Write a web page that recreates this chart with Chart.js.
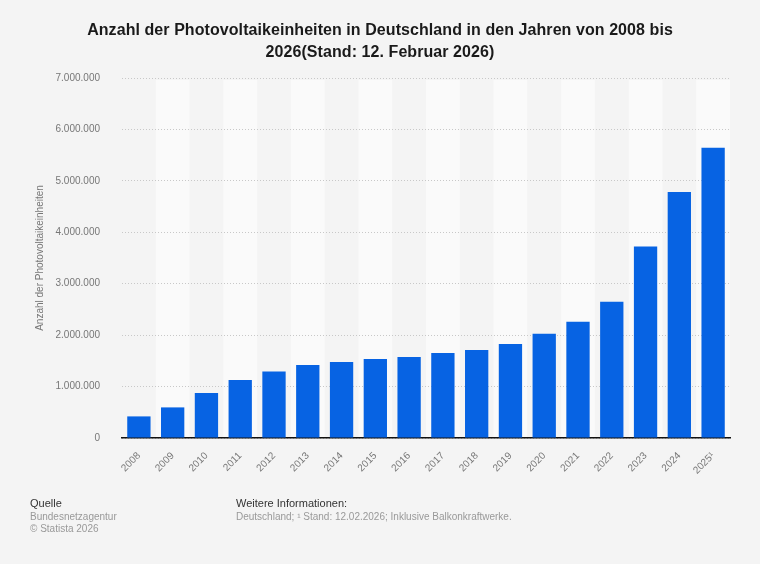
<!DOCTYPE html>
<html lang="de">
<head>
<meta charset="utf-8">
<script src="https://cdn.jsdelivr.net/npm/chart.js@4"></script>
<style>
  html, body { margin: 0; padding: 0; }
  body { width: 760px; height: 564px; background: #f4f4f4; position: relative; overflow: hidden;
         font-family: "Liberation Sans", Arial, sans-serif; }
  #title { position: absolute; left: 0; top: 19px; width: 760px; text-align: center;
           font-size: 16px; font-weight: bold; line-height: 22px; color: #1a1a1a; letter-spacing: 0.07px; }
  #wrap { position: absolute; left: 0; top: 0; width: 760px; height: 564px; }
  .foot { position: absolute; top: 497px; font-size: 10px; line-height: 12.5px; color: #999; }
  .foot b { font-weight: normal; color: #333; font-size: 11px; }
</style>
</head>
<body>
<div id="wrap"><canvas id="chart" width="760" height="564"></canvas></div>
<div id="title">Anzahl der Photovoltaikeinheiten in Deutschland in den Jahren von 2008 bis<br>2026(Stand: 12. Februar 2026)</div>
<div class="foot" style="left:30px"><b>Quelle</b><br>Bundesnetzagentur<br>© Statista 2026</div>
<div class="foot" style="left:236px"><b>Weitere Informationen:</b><br>Deutschland; ¹ Stand: 12.02.2026; Inklusive Balkonkraftwerke.</div>
<script>
// Jahre (2025 mit Fußnote)
const years = ['2008', '2009', '2010', '2011', '2012', '2013', '2014', '2015', '2016',
               '2017', '2018', '2019', '2020', '2021', '2022', '2023', '2024', '2025¹'];
// Anzahl der Photovoltaikeinheiten
const units = [420000, 595000, 875000, 1128000, 1295000, 1420000, 1478000, 1536000, 1575000,
               1653000, 1711000, 1828000, 2028000, 2261000, 2650000, 3726000, 4783000, 5645000];
const yTicks = [0, 1000000, 2000000, 3000000, 4000000, 5000000, 6000000, 7000000];

// Tausenderpunkte wie im Original
const formatDe = (v) => String(v).replace(/\B(?=(\d{3})+(?!\d))/g, '.');

// helle Streifen hinter jeder zweiten Kategorie
const bandsPlugin = {
    id: 'bands',
    beforeDraw(chart) {
        const { ctx, chartArea, scales } = chart;
        const step = scales.x.getPixelForValue(1) - scales.x.getPixelForValue(0);
        ctx.save();
        ctx.fillStyle = '#fafafa';
        years.forEach((y, i) => {
            if (i % 2 === 1) {
                const cx = scales.x.getPixelForValue(i);
                ctx.fillRect(cx - step / 2, chartArea.top + 2, step, chartArea.bottom - chartArea.top - 2);
            }
        });
        ctx.restore();
    }
};

new Chart(document.getElementById('chart'), {
    type: 'bar',
    data: {
        labels: years,
        datasets: [{
            data: units,
            backgroundColor: '#0763e3',
            barPercentage: 0.69,
            categoryPercentage: 1
        }]
    },
    options: {
        responsive: false,
        animation: false,
        layout: { padding: { top: 78, right: 30, left: 0, bottom: 0 } },
        plugins: { legend: { display: false }, tooltip: { enabled: false } },
        scales: {
            x: {
                afterFit: (scale) => { scale.height = 126; },
                grid: { display: false },
                border: { display: true, color: '#111', width: 1.5 },
                ticks: {
                    color: '#777',
                    font: { family: '"Liberation Sans", Arial', size: 10 },
                    minRotation: 45,
                    maxRotation: 45,
                    padding: 4
                }
            },
            y: {
                min: 0,
                max: 7000000,
                afterFit: (scale) => { scale.width = 122; },
                afterBuildTicks: (scale) => { scale.ticks = yTicks.map(v => ({ value: v })); },
                // in v4 steuert border.dash die Strichelung der Gitterlinien
                border: { display: false, dash: [1, 2] },
                grid: { color: '#c8c8c8', lineWidth: 1, drawTicks: false },
                ticks: {
                    color: '#777',
                    font: { family: '"Liberation Sans", Arial', size: 10 },
                    padding: 22,
                    callback: (v) => formatDe(v)
                },
                title: {
                    display: true,
                    text: 'Anzahl der Photovoltaikeinheiten',
                    color: '#777',
                    font: { family: '"Liberation Sans", Arial', size: 10 },
                    padding: { top: 34, bottom: 0 }
                }
            }
        }
    },
    plugins: [bandsPlugin]
});
</script>
</body>
</html>
